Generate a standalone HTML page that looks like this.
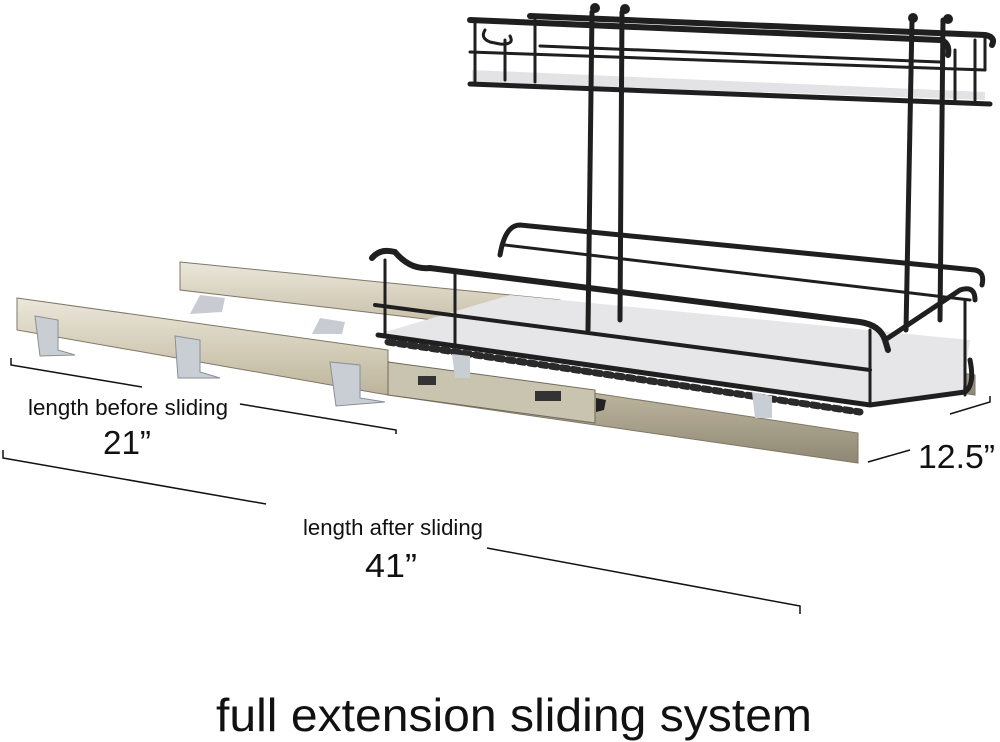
<!DOCTYPE html>
<html><head><meta charset="utf-8"><style>
html,body{margin:0;padding:0;background:#fff;}
svg{display:block}
</style></head><body>
<svg width="1000" height="742" viewBox="0 0 1000 742" xmlns="http://www.w3.org/2000/svg">
<defs>
<linearGradient id="rail" x1="0" y1="0" x2="0" y2="1">
<stop offset="0" stop-color="#ebe7da"/><stop offset="0.5" stop-color="#c4bca4"/><stop offset="1" stop-color="#8f8874"/>
</linearGradient>
</defs>
<!-- back rail -->
<polygon points="180,262 560,300 560,312 975,375 975,395 560,335 180,290" fill="url(#rail)" stroke="#7d7767" stroke-width="1"/>
<polygon points="200,295 225,298 222,312 190,314" fill="#c8ccd2"/>
<polygon points="320,318 345,322 342,334 312,334" fill="#c8ccd2"/>
<!-- lower shelf -->
<polygon points="375,335 510,295 970,340 962,395 870,405" fill="#e6e6e8"/>
<!-- top shelf -->
<polygon points="472,70 985,92 985,100 472,82" fill="#e3e3e5"/>
<!-- posts -->
<g stroke="#1f1f1f" stroke-width="5" fill="none" stroke-linecap="round">
<line x1="592" y1="12" x2="588" y2="330"/>
<line x1="622" y1="12" x2="620" y2="320"/>
<line x1="912" y1="20" x2="906" y2="330"/>
<line x1="943" y1="20" x2="940" y2="320"/>
</g>
<g fill="#1f1f1f"><circle cx="595" cy="8" r="5"/><circle cx="625" cy="9" r="5"/><circle cx="913" cy="18" r="5"/><circle cx="948" cy="19" r="5"/></g>
<!-- top basket -->
<g stroke="#1f1f1f" fill="none" stroke-linecap="round">
<path d="M530,16 L985,35 Q996,37 992,45" stroke-width="6"/>
<path d="M470,20 L940,40 Q950,42 948,55" stroke-width="6"/>
<path d="M470,52 L985,70" stroke-width="3"/>
<path d="M540,46 L940,62" stroke-width="3"/>
<path d="M470,84 L990,104" stroke-width="5"/>
<path d="M475,22 L475,84 M510,36 Q515,45 500,44 L490,42 Q480,38 485,30 M505,40 L505,80 M535,20 L535,82 M975,40 L975,100 M955,50 L955,100 M985,38 L985,70" stroke-width="3"/>
</g>
<!-- lower basket -->
<g stroke="#1f1f1f" fill="none" stroke-linecap="round">
<path d="M500,255 Q505,225 520,225 L975,270 Q985,272 982,285" stroke-width="5"/>
<path d="M372,258 Q380,248 395,252 Q410,270 430,268 L860,322 Q880,325 885,340 L888,350" stroke-width="6"/>
<path d="M885,340 Q900,330 960,290 Q975,285 975,300" stroke-width="5"/>
<path d="M505,245 L970,300" stroke-width="3"/>
<path d="M375,305 L870,370" stroke-width="4"/>
<path d="M378,335 L870,405 L965,392 Q975,385 970,360" stroke-width="5"/>
<path d="M388,342 L860,412" stroke-width="7" stroke-dasharray="6,5" stroke="#2a2a2a"/>
<path d="M385,260 L385,335 M455,270 L455,345 M870,330 L870,405 M965,300 L965,395" stroke-width="3"/>
</g>
<!-- front long rail -->
<polygon points="17,298 388,350 388,362 858,433 858,463 388,395 17,330" fill="url(#rail)" stroke="#7d7767" stroke-width="1"/>
<polygon points="388,362 595,390 595,423 388,395" fill="#c8c4b0" stroke="#6f6a5a"/>
<rect x="418" y="376" width="18" height="9" fill="#333"/><rect x="535" y="391" width="26" height="10" fill="#333"/>
<path d="M596,398 L606,400 L604,410 L596,412" fill="#222"/>
<polygon points="35,316 58,320 58,350 75,355 40,356" fill="#c9cdd4" stroke="#8a8f96"/>
<polygon points="175,336 200,340 200,372 220,378 178,378" fill="#c9cdd4" stroke="#8a8f96"/>
<polygon points="330,362 360,365 360,398 385,402 336,406" fill="#c9cdd4" stroke="#8a8f96"/>
<polygon points="452,354 470,356 470,378 455,378" fill="#c9cdd4"/>
<polygon points="752,392 772,396 772,418 755,418" fill="#c9cdd4"/>
<!-- dimension lines -->
<g stroke="#111" stroke-width="1.5" fill="none">
<path d="M11,358 L11,365 L142,387"/>
<path d="M240,404 L396,430 L396,434"/>
<path d="M3,450 L3,458 L266,504"/>
<path d="M487,548 L800,606 L800,614"/>
<path d="M868,462 L910,450"/>
<path d="M950,414 L990,402 L990,396"/>
</g>
<g font-family="'Liberation Sans',sans-serif" fill="#111">
<text x="28" y="415" font-size="22" textLength="200" lengthAdjust="spacingAndGlyphs">length before sliding</text>
<text x="103" y="454" font-size="33" textLength="48" lengthAdjust="spacingAndGlyphs">21”</text>
<text x="303" y="535" font-size="22" textLength="180" lengthAdjust="spacingAndGlyphs">length after sliding</text>
<text x="365" y="577" font-size="33" textLength="52" lengthAdjust="spacingAndGlyphs">41”</text>
<text x="918" y="468" font-size="33" textLength="77" lengthAdjust="spacingAndGlyphs">12.5”</text>
<text x="216" y="731" font-size="46" textLength="596" lengthAdjust="spacingAndGlyphs">full extension sliding system</text>
</g>
</svg>
</body></html>
